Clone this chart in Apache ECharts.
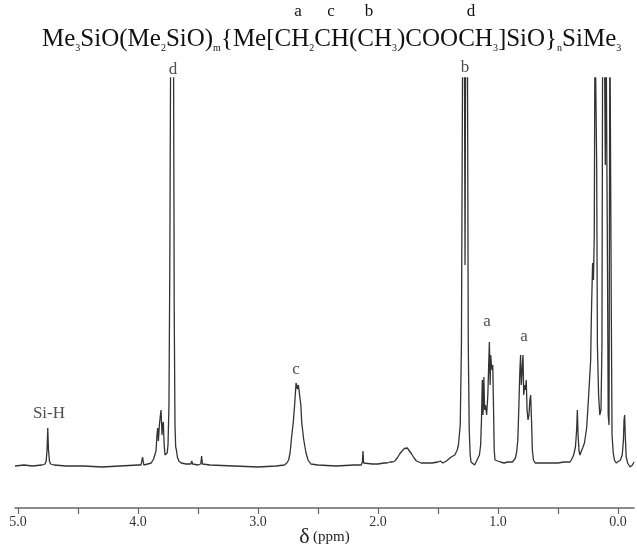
<!DOCTYPE html>
<html>
<head>
<meta charset="utf-8">
<script src="https://cdn.jsdelivr.net/npm/echarts@6/dist/echarts.min.js"></script>
<style>
  html, body { margin: 0; padding: 0; background: #fff; }
  #chart { width: 637px; height: 547px; }
</style>
</head>
<body>
<div id="chart"></div>
<script>
// 1H NMR spectrum, chemical shift (ppm) vs intensity (baseline = 0)
const siH = [[5.025, -1], [4.95, 0], [4.88, -1], [4.8, 0], [4.775, 1], [4.765, 4], [4.758, 15], [4.752, 37], [4.746, 15], [4.738, 4], [4.728, 1], [4.7, 0]]
const esterRegion = [[4.6, -1], [4.45, -1], [4.3, -2], [4.15, -1], [4.0, 0], [3.975, 0], [3.962, 8], [3.952, 0], [3.92, 1], [3.89, 2], [3.87, 6], [3.85, 14], [3.842, 30], [3.836, 37], [3.83, 24], [3.822, 40], [3.815, 48], [3.808, 55], [3.8, 30], [3.795, 40], [3.789, 43], [3.782, 20], [3.775, 10], [3.765, 8], [3.757, 12]]
const methoxyD = [[3.75, 20], [3.742, 60], [3.735, 200], [3.728, 420], [3.72, 450], [3.712, 450], [3.704, 420], [3.698, 150], [3.692, 40], [3.686, 18], [3.68, 15], [3.672, 8], [3.66, 4], [3.64, 2], [3.6, 1], [3.56, 1], [3.552, 4], [3.545, 1], [3.5, 0], [3.477, 1], [3.47, 9], [3.463, 1], [3.4, 0]]
const methineC = [[3.2, -1], [3.0, -2], [2.85, -1], [2.78, 0], [2.76, 2], [2.745, 5], [2.733, 12], [2.72, 28], [2.706, 43], [2.695, 60], [2.683, 82], [2.672, 76], [2.664, 80], [2.65, 81], [2.643, 60], [2.636, 43], [2.62, 26], [2.6, 12], [2.583, 5], [2.56, 1], [2.5, 0], [2.35, -1], [2.2, 0]]
const midRegion = [[2.14, 0], [2.13, 3], [2.125, 14], [2.12, 2], [2.112, 4], [2.105, 1], [2.05, 1], [2.0, 1], [1.95, 2], [1.935, 4], [1.925, 2], [1.9, 3], [1.88, 3], [1.86, 4], [1.84, 7], [1.82, 11], [1.8, 14], [1.78, 16.5], [1.756, 17], [1.74, 15], [1.72, 11], [1.7, 7], [1.68, 4], [1.66, 3], [1.64, 2], [1.6, 2], [1.55, 2], [1.5, 3], [1.48, 4], [1.46, 2], [1.45, 3], [1.43, 4], [1.41, 6], [1.39, 8], [1.36, 10], [1.34, 15]]
const methylB = [[1.33, 20], [1.315, 40], [1.305, 120], [1.295, 420], [1.287, 450], [1.28, 420], [1.275, 200], [1.27, 420], [1.263, 450], [1.255, 420], [1.248, 120], [1.24, 35], [1.232, 10], [1.225, 3], [1.21, 1], [1.195, 0], [1.185, 1], [1.175, 5]]
const methyleneA1 = [[1.165, 7], [1.155, 10], [1.145, 20], [1.138, 45], [1.131, 85], [1.125, 50], [1.118, 88], [1.112, 55], [1.105, 60], [1.095, 50], [1.085, 70], [1.078, 100], [1.072, 123], [1.066, 80], [1.061, 110], [1.055, 100], [1.05, 95], [1.044, 100], [1.038, 60], [1.032, 15], [1.025, 5], [1.01, 3], [0.98, 3], [0.95, 2], [0.92, 3], [0.9, 3], [0.88, 3], [0.865, 4]]
const methyleneA2 = [[0.855, 7], [0.845, 13], [0.835, 25], [0.826, 60], [0.818, 95], [0.812, 110], [0.806, 80], [0.799, 95], [0.792, 110], [0.786, 70], [0.778, 80], [0.771, 75], [0.765, 85], [0.758, 55], [0.75, 45], [0.742, 50], [0.735, 65], [0.728, 70], [0.721, 45], [0.714, 15], [0.705, 5], [0.69, 2], [0.6, 2], [0.5, 2], [0.45, 3], [0.4, 3]]
const siMethyl = [[0.385, 6], [0.37, 10], [0.355, 18], [0.345, 35], [0.339, 55], [0.333, 30], [0.325, 14], [0.317, 10], [0.305, 14], [0.295, 17], [0.289, 18], [0.28, 22], [0.27, 30], [0.261, 38], [0.247, 65], [0.235, 90], [0.228, 105], [0.222, 150], [0.212, 202], [0.205, 185], [0.198, 230], [0.192, 450], [0.184, 450], [0.178, 300], [0.172, 120], [0.162, 70], [0.152, 50], [0.142, 55], [0.134, 120], [0.128, 450], [0.12, 450], [0.113, 420], [0.106, 300], [0.1, 450], [0.094, 450], [0.088, 200], [0.082, 50], [0.075, 40], [0.068, 450], [0.062, 450], [0.056, 150], [0.05, 30], [0.04, 12], [0.03, 5], [0.015, 2], [0.0, 3], [-0.02, 5], [-0.035, 10], [-0.045, 25], [-0.05, 45], [-0.055, 50], [-0.06, 30], [-0.068, 8], [-0.08, 2], [-0.1, -2], [-0.12, 0], [-0.133, 3]]

// peak assignment labels [ppm, height, text]
const peakLabels = [[3.708, 395, 'd'], [1.275, 397, 'b'], [2.683, 95, 'c'], [1.092, 143, 'a'], [0.783, 128, 'a'], [4.742, 51, 'Si-H']]

const tickPpm = [0, 0.5, 1, 1.5, 2, 2.5, 3, 3.5, 4, 4.5, 5]
const labelPpm = [0, 1, 2, 3, 4, 5]

const spectrum = [].concat(siH, esterRegion, methoxyD, methineC, midRegion, methylB, methyleneA1, methyleneA2, siMethyl)

const serif = '"Liberation Serif", "DejaVu Serif", serif'
const chart = echarts.init(document.getElementById('chart'))

// small letters above the formula
const formulaMarks = [['a', 298], ['c', 331], ['b', 369], ['d', 471]]

chart.setOption({
  animation: false,
  title: {
    text: 'Me{s|3}SiO(Me{s|2}SiO){s|m}{Me[CH{s|2}CH(CH{s|3})COOCH{s|3}]SiO}{s|n}SiMe{s|3}',
    left: 37,
    top: 20,
    textStyle: {
      fontFamily: serif,
      fontSize: 25,
      fontWeight: 'normal',
      color: '#111',
      lineHeight: 28,
      rich: {
        s: { fontFamily: serif, fontSize: 10, color: '#111', lineHeight: 14, verticalAlign: 'bottom' }
      }
    }
  },
  graphic: formulaMarks.map(m => ({
    type: 'text',
    x: m[1],
    y: 12,
    style: { text: m[0], font: '17px ' + serif, fill: '#111', align: 'center', verticalAlign: 'middle' }
  })),
  grid: {
    left: 15,
    right: 3,
    top: 78,
    bottom: 39,
    outerBoundsMode: 'none',
    containLabel: false
  },
  xAxis: {
    type: 'value',
    inverse: true,
    min: -0.133,
    max: 5.025,
    name: '{d|δ} {p|(ppm)}',
    nameLocation: 'middle',
    nameGap: 18,
    nameMoveOverlap: false,
    nameTextStyle: {
      rich: {
        d: { fontFamily: serif, fontSize: 22, color: '#222' },
        p: { fontFamily: serif, fontSize: 15, color: '#222' }
      }
    },
    axisLine: {
      onZero: false,
      lineStyle: { color: '#666', width: 1.5 }
    },
    axisTick: {
      show: true,
      inside: false,
      length: 6,
      customValues: tickPpm,
      lineStyle: { color: '#666', width: 1.2 }
    },
    axisLabel: {
      customValues: labelPpm,
      margin: 7,
      fontFamily: serif,
      fontSize: 14,
      color: '#333',
      formatter: v => v.toFixed(1)
    },
    splitLine: { show: false }
  },
  yAxis: {
    type: 'value',
    min: -43,
    max: 387,
    show: false
  },
  series: [
    {
      type: 'line',
      data: spectrum,
      showSymbol: false,
      smooth: false,
      clip: true,
      lineStyle: { color: '#333', width: 1.3 }
    },
    {
      type: 'scatter',
      data: peakLabels,
      symbolSize: 0,
      clip: false,
      label: {
        show: true,
        position: 'inside',
        fontFamily: serif,
        fontSize: 17,
        color: '#222',
        formatter: p => p.value[2]
      }
    }
  ]
})
</script>
</body>
</html>
